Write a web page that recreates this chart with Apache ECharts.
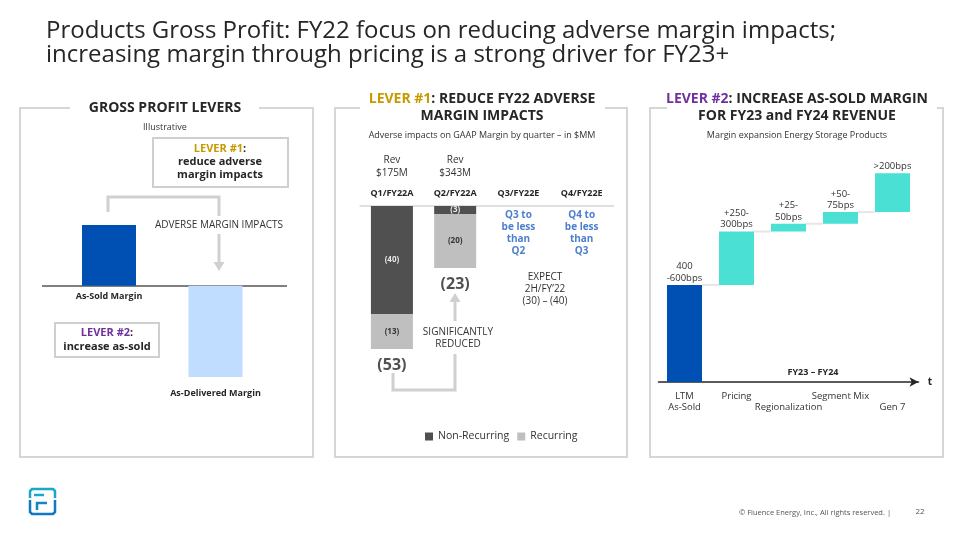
<!DOCTYPE html>
<html><head><meta charset="utf-8">
<script src="https://cdn.jsdelivr.net/npm/echarts@6/dist/echarts.min.js"></script>
<style>html,body{margin:0;padding:0;background:#fff}#c{width:960px;height:540px}</style>
</head><body><div id="c"></div>
<script>
// ---- Panel 1 (illustrative) ----
const leverCats = ['As-Sold Margin', 'As-Delivered Margin'];
const leverVals = [4, -6];
// ---- Panel 2 ----
const quarters = ['Q1/FY22A', 'Q2/FY22A', 'Q3/FY22E', 'Q4/FY22E'];
const revLabels = ['Rev\n$175M', 'Rev\n$343M', '', ''];
const nonRecurring = [-40, -3, null, null];
const recurring = [-13, -20, null, null];
const quarterNotes = ['', '', 'Q3 to\nbe less\nthan\nQ2', 'Q4 to\nbe less\nthan\nQ3'];
// ---- Panel 3 ----
const wfCats = ['LTM\nAs-Sold', 'Pricing', 'Regionalization', 'Segment Mix', 'Gen 7'];
const wfDeltas = [500, 275, 40, 60, 200];
const wfLabels = ['400\n-600bps', '+250-\n300bps', '+25-\n50bps', '+50-\n75bps', '>200bps'];

const F = '"Open Sans", "Noto Sans", sans-serif';
const totals = nonRecurring.map((v, i) => (v == null ? null : v + recurring[i]));
const wfBase = [];
let acc = 0;
wfDeltas.forEach((d, i) => { wfBase.push(i === 0 ? 0 : acc); acc += d; });
const connectors = wfDeltas.slice(1).map((d, i) => [i + 1, wfBase[i + 1]]);

const chart = echarts.init(document.getElementById('c'), null, { renderer: 'canvas' });
const border = '#d6d6d6';
function T(x, y, text, o) {
  return Object.assign({ type: 'text', x: x, y: y, style: Object.assign({ text: text, font: 'normal 10px ' + F, fill: '#333', align: 'center', verticalAlign: 'middle' }, o || {}) });
}
const graphic = [
  T(46, 31, 'Products Gross Profit: FY22 focus on reducing adverse margin impacts;', { font: 'normal 24px ' + F, fill: '#262626', align: 'left' }),
  T(46, 55, 'increasing margin through pricing is a strong driver for FY23+', { font: 'normal 24px ' + F, fill: '#262626', align: 'left' }),
  // panel borders
  { type: 'polyline', shape: { points: [[70, 108], [20, 108], [20, 457], [313, 457], [313, 108], [259, 108]] }, style: { stroke: border, lineWidth: 2, fill: null } },
  { type: 'polyline', shape: { points: [[360, 108], [335, 108], [335, 457], [627, 457], [627, 108], [605, 108]] }, style: { stroke: border, lineWidth: 2, fill: null } },
  { type: 'polyline', shape: { points: [[667, 108], [650, 108], [650, 457], [943, 457], [943, 108], [937, 108]] }, style: { stroke: border, lineWidth: 2, fill: null } },
  // panel 1
  T(165, 108, 'GROSS PROFIT LEVERS', { font: 'bold 14px ' + F, fill: '#262626' }),
  T(165, 127, 'Illustrative', { font: 'normal 9px ' + F }),
  { type: 'rect', shape: { x: 153, y: 138, width: 135, height: 49 }, style: { stroke: '#cfcfcf', lineWidth: 2, fill: '#fff' } },
  { type: 'text', x: 220, y: 149, style: { text: '{g|LEVER #1}{k|:}', align: 'center', verticalAlign: 'middle', rich: { g: { font: 'bold 11px ' + F, fill: '#c79a00' }, k: { font: 'bold 11px ' + F, fill: '#262626' } } } },
  T(220, 162, 'reduce adverse', { font: 'bold 11px ' + F, fill: '#262626' }),
  T(220, 175, 'margin impacts', { font: 'bold 11px ' + F, fill: '#262626' }),
  { type: 'rect', shape: { x: 55, y: 323, width: 104, height: 34 }, style: { stroke: '#cfcfcf', lineWidth: 2, fill: '#fff' } },
  { type: 'text', x: 107, y: 333, style: { text: '{p|LEVER #2}{k|:}', align: 'center', verticalAlign: 'middle', rich: { p: { font: 'bold 11px ' + F, fill: '#7030a0' }, k: { font: 'bold 11px ' + F, fill: '#262626' } } } },
  T(107, 347, 'increase as-sold', { font: 'bold 11px ' + F, fill: '#262626' }),
  { type: 'polyline', shape: { points: [[108, 212], [108, 197], [219, 197], [219, 216]] }, style: { stroke: '#d0d0d0', lineWidth: 3, fill: null } },
  T(219, 225, 'ADVERSE MARGIN IMPACTS', { font: 'normal 10px ' + F }),
  { type: 'line', shape: { x1: 219, y1: 234, x2: 219, y2: 263 }, style: { stroke: '#d0d0d0', lineWidth: 3 } },
  { type: 'polygon', shape: { points: [[213.5, 262], [224.5, 262], [219, 271]] }, style: { fill: '#d0d0d0' } },
  { type: 'line', shape: { x1: 42, y1: 286, x2: 287, y2: 286 }, style: { stroke: '#808080', lineWidth: 2 } },
  // panel 2
  { type: 'text', x: 482, y: 99, style: { text: '{g|LEVER #1}{k|: REDUCE FY22 ADVERSE}', align: 'center', verticalAlign: 'middle', rich: { g: { font: 'bold 14px ' + F, fill: '#c79a00' }, k: { font: 'bold 14px ' + F, fill: '#262626' } } } },
  T(482, 116, 'MARGIN IMPACTS', { font: 'bold 14px ' + F, fill: '#262626' }),
  T(482, 135, 'Adverse impacts on GAAP Margin by quarter \u2013 in $MM', { font: 'normal 9px ' + F }),
  T(545, 289, 'EXPECT\n2H/FY\u201922\n(30) \u2013 (40)', { font: 'normal 10px ' + F, lineHeight: 12 }),
  { type: 'polyline', shape: { points: [[393, 373], [393, 390], [455, 390], [455, 354]] }, style: { stroke: '#d0d0d0', lineWidth: 3, fill: null } },
  { type: 'line', shape: { x1: 455, y1: 321, x2: 455, y2: 300 }, style: { stroke: '#d0d0d0', lineWidth: 3 } },
  { type: 'polygon', shape: { points: [[449.5, 302], [460.5, 302], [455, 293]] }, style: { fill: '#d0d0d0' } },
  T(458, 338, 'SIGNIFICANTLY\nREDUCED', { font: 'normal 10px ' + F, lineHeight: 12 }),
  // panel 3
  { type: 'text', x: 797, y: 99, style: { text: '{p|LEVER #2}{k|: INCREASE AS-SOLD MARGIN}', align: 'center', verticalAlign: 'middle', rich: { p: { font: 'bold 14px ' + F, fill: '#7030a0' }, k: { font: 'bold 14px ' + F, fill: '#262626' } } } },
  T(797, 116, 'FOR FY23 and FY24 REVENUE', { font: 'bold 14px ' + F, fill: '#262626' }),
  T(797, 135, 'Margin expansion Energy Storage Products', { font: 'normal 9px ' + F }),
  T(813, 372, 'FY23 \u2013 FY24', { font: 'bold 9px ' + F, fill: '#262626' }),
  T(930, 382, 't', { font: 'bold 10px ' + F, fill: '#262626' }),
  // footer
  T(891, 513, '\u00a9 Fluence Energy, Inc., All rights reserved. |', { font: 'normal 7.5px ' + F, fill: '#555', align: 'right' }),
  T(920, 512, '22', { font: 'normal 8px ' + F, fill: '#555' }),
  // logo
  { type: 'polyline', shape: { points: [[30, 498], [30, 491], [32, 489], [53, 489], [55, 491], [55, 498]] }, style: { stroke: '#1aa8c8', lineWidth: 2.5, fill: null } },
  { type: 'line', shape: { x1: 34, y1: 495, x2: 44, y2: 495 }, style: { stroke: '#19a6c9', lineWidth: 2.5 } },
  { type: 'polyline', shape: { points: [[30, 500], [30, 512], [32, 514], [53, 514], [55, 512], [55, 500]] }, style: { stroke: '#1277c4', lineWidth: 2.5, fill: null } },
  { type: 'polyline', shape: { points: [[37, 510], [37, 503], [47, 503]] }, style: { stroke: '#1685c6', lineWidth: 2.5, fill: null } }
];

const option = {
  animation: false,
  textStyle: { fontFamily: F },
  legend: {
    data: ['Non-Recurring', 'Recurring'], left: 420, top: 426, icon: 'rect', itemWidth: 8, itemHeight: 8, itemGap: 8,
    textStyle: { fontSize: 10.5, color: '#333', fontFamily: F }
  },
  grid: [
    { left: 55.75, top: 225, width: 213, height: 152 },
    { left: 360.3, top: 206, width: 253, height: 162 },
    { left: 658.5, top: 149, width: 260, height: 233 }
  ],
  xAxis: [
    { type: 'category', gridIndex: 0, data: leverCats, show: false },
    { type: 'category', gridIndex: 1, data: quarters, position: 'top', axisTick: { show: false },
      axisLine: { lineStyle: { color: '#e0e0e0', width: 2 } },
      axisLabel: { fontSize: 9, fontWeight: 'bold', color: '#262626', margin: 8, fontFamily: F } },
    { type: 'category', gridIndex: 1, data: revLabels, position: 'top', offset: 18, axisTick: { show: false },
      axisLine: { show: false }, axisLabel: { fontSize: 10, color: '#333', lineHeight: 13, margin: 8, fontFamily: F } },
    { type: 'category', gridIndex: 2, data: wfCats, axisTick: { show: false },
      axisLine: { symbol: ['none', 'arrow'], symbolSize: [7, 9], lineStyle: { color: '#262626', width: 1.5 } },
      axisLabel: { fontSize: 9.5, color: '#333', lineHeight: 11, margin: 9, interval: 0, fontFamily: F,
        formatter: (v, i) => (i > 0 && i % 2 === 0 ? '\n' + v : v) } }
  ],
  yAxis: [
    { type: 'value', gridIndex: 0, min: -6, max: 4, show: false },
    { type: 'value', gridIndex: 1, min: -60, max: 0, show: false },
    { type: 'value', gridIndex: 2, min: 0, max: 1200, show: false }
  ],
  series: [
    { type: 'bar', xAxisIndex: 0, yAxisIndex: 0, barWidth: 54,
      data: leverVals.map((v, i) => ({ value: v, itemStyle: { color: i === 0 ? '#0050b3' : '#c0dcff' }, label: { distance: i === 0 ? 6 : 12 } })),
      label: { show: true, position: 'bottom', formatter: p => p.name, fontSize: 9, fontWeight: 'bold', color: '#262626', fontFamily: F } },
    { name: 'Non-Recurring', type: 'bar', stack: 'q', xAxisIndex: 1, yAxisIndex: 1, barWidth: 42, data: nonRecurring,
      itemStyle: { color: '#505050' },
      label: { show: true, position: 'inside', fontSize: 8, fontWeight: 'bold', color: '#e8e8e8', fontFamily: F, formatter: p => '(' + Math.abs(p.value) + ')' } },
    { name: 'Recurring', type: 'bar', stack: 'q', xAxisIndex: 1, yAxisIndex: 1, barWidth: 42, data: recurring,
      itemStyle: { color: '#bfbfbf' },
      label: { show: true, position: 'inside', fontSize: 8, fontWeight: 'bold', color: '#333', fontFamily: F, formatter: p => '(' + Math.abs(p.value) + ')' } },
    { type: 'scatter', xAxisIndex: 1, yAxisIndex: 1, symbolSize: 0, data: totals,
      label: { show: true, position: 'bottom', distance: 8, fontSize: 16, fontWeight: 'bold', color: '#262626', fontFamily: F, formatter: p => '(' + Math.abs(p.value) + ')' } },
    { type: 'scatter', xAxisIndex: 1, yAxisIndex: 1, symbolSize: 0, data: quarterNotes.map(n => (n ? 0 : null)),
      label: { show: true, position: 'bottom', distance: 3, fontSize: 10, fontWeight: 'bold', color: '#1f5fc0', lineHeight: 12, fontFamily: F, formatter: p => quarterNotes[p.dataIndex] } },
    { type: 'bar', stack: 'wf', xAxisIndex: 3, yAxisIndex: 2, barWidth: 35, data: wfBase, itemStyle: { color: 'transparent' }, silent: true },
    { type: 'bar', stack: 'wf', xAxisIndex: 3, yAxisIndex: 2, barWidth: 35,
      data: wfDeltas.map((v, i) => ({ value: v, itemStyle: { color: i === 0 ? '#0050b3' : '#4ae0d3' } })),
      label: { show: true, position: 'top', distance: 1, fontSize: 9.5, color: '#333', lineHeight: 11.5, fontFamily: F, formatter: p => wfLabels[p.dataIndex] } },
    { type: 'custom', xAxisIndex: 3, yAxisIndex: 2, data: connectors, silent: true,
      renderItem: (params, api) => {
        const i = api.value(0), lv = api.value(1);
        const a = api.coord([i - 1, lv]), b = api.coord([i, lv]);
        return { type: 'line', shape: { x1: a[0] + 17.5, y1: a[1], x2: b[0] - 17.5, y2: b[1] }, style: { stroke: '#e6e6e6', lineWidth: 2 } };
      } }
  ],
  graphic: graphic
};
chart.setOption(option);
</script></body></html>
